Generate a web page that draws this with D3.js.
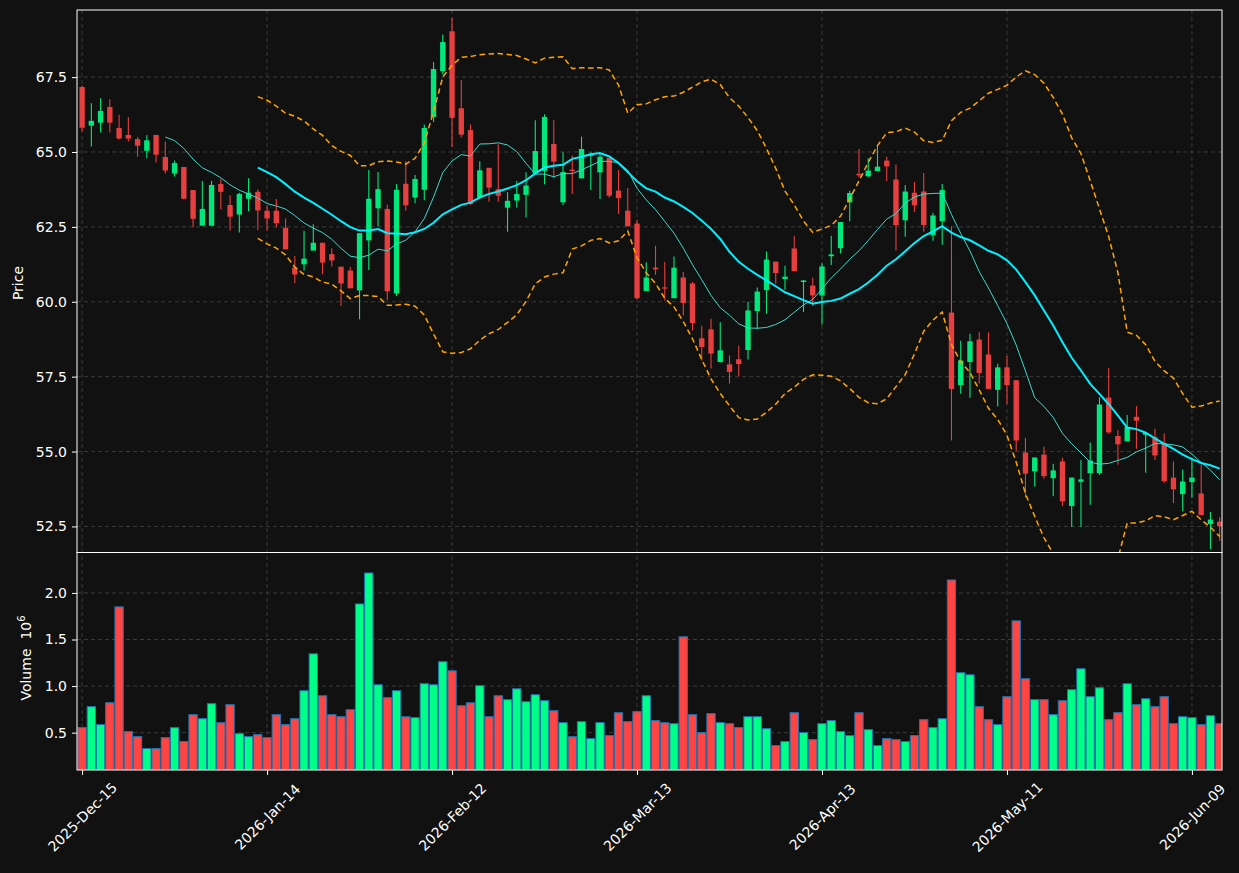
<!DOCTYPE html>
<html>
<head>
<meta charset="utf-8">
<script src="https://cdn.jsdelivr.net/npm/d3@7"></script>
<style>
  html, body { margin: 0; padding: 0; background: #111111; }
  svg { display: block; font-family: "DejaVu Sans", sans-serif; }
</style>
</head>
<body>
<svg id="chart" width="1239" height="873"></svg>
<script>
// ---- data (one entry per trading day, index 0 = 2025-Dec-15)
const open = [67.17,65.88,65.98,66.50,65.80,65.57,65.43,65.04,65.57,64.83,
  64.28,64.50,63.73,62.54,62.54,63.93,63.23,62.91,63.44,63.67,
  63.04,63.04,62.47,61.14,61.25,61.71,61.97,61.59,61.17,61.04,
  60.38,62.05,63.12,63.10,60.28,63.94,63.48,63.74,66.17,67.70,
  69.03,66.46,65.73,63.48,64.47,63.76,63.14,63.38,63.57,64.29,
  64.37,65.27,63.32,64.41,64.12,64.87,64.32,64.80,63.71,63.04,
  62.61,60.36,61.14,60.48,60.12,60.81,60.61,58.78,59.08,57.99,
  57.91,58.08,58.39,59.69,60.39,61.34,60.76,61.78,60.66,60.54,
  60.21,61.52,61.79,63.32,64.27,64.19,64.36,64.71,64.08,62.72,
  63.64,63.68,62.22,62.69,59.64,57.22,57.99,58.74,58.24,57.06,
  57.81,57.38,54.97,54.34,54.90,54.11,54.67,53.18,53.99,54.28,
  54.28,56.80,55.52,55.34,56.16,55.56,55.48,55.28,54.13,53.58,
  53.98,53.60,52.58,52.66];
const high = [67.22,66.63,66.79,66.76,66.24,66.17,65.50,65.57,65.57,65.35,
  64.72,64.50,63.73,64.03,64.03,64.10,63.56,63.64,64.12,63.75,
  63.22,63.43,62.78,61.53,62.37,62.59,61.97,61.79,61.17,61.17,
  62.29,64.40,64.33,63.25,63.93,64.69,64.23,65.92,68.00,68.92,
  69.48,67.40,65.92,64.69,64.47,65.26,63.66,64.03,64.32,66.06,
  66.26,66.06,64.99,64.88,65.51,64.99,64.93,64.80,64.40,63.80,
  62.74,61.32,61.87,61.33,61.51,60.99,60.66,59.20,59.43,59.32,
  58.21,58.53,60.00,60.48,61.68,61.34,61.20,62.20,60.73,60.80,
  61.29,62.20,62.66,63.71,65.10,64.79,65.24,64.84,64.58,63.90,
  64.00,64.30,62.97,63.93,62.52,58.70,58.93,58.98,58.98,57.93,
  58.20,57.38,55.46,54.80,55.16,54.59,54.79,54.13,54.72,55.30,
  56.81,57.79,55.72,56.22,56.52,55.62,55.76,55.61,54.67,54.40,
  54.81,54.57,52.98,52.81];
const low = [65.68,65.18,65.65,65.65,65.42,65.35,64.84,64.79,64.65,64.28,
  64.18,63.41,62.49,62.54,62.54,63.08,62.38,62.31,63.03,62.39,
  62.37,62.49,61.75,60.62,61.04,61.71,60.92,61.18,59.86,60.45,
  59.42,61.06,62.51,60.06,60.19,63.04,63.29,63.39,66.00,67.59,
  65.17,65.48,63.23,63.44,63.34,63.34,62.34,63.14,62.81,64.29,
  63.92,64.12,63.23,63.60,64.12,63.73,63.43,63.47,62.93,62.52,
  60.08,60.36,60.90,60.04,60.12,59.54,59.04,58.04,57.77,57.97,
  57.27,57.51,58.07,59.10,59.60,60.60,60.40,61.02,59.66,59.86,
  59.24,61.23,61.62,62.69,64.16,64.16,64.36,64.02,61.71,62.17,
  63.00,62.34,62.04,61.90,55.37,56.93,56.80,57.27,57.09,56.50,
  56.59,55.03,53.46,53.83,54.09,53.51,53.18,52.48,52.49,53.22,
  54.22,55.59,54.56,55.34,55.09,54.29,54.72,53.96,53.28,53.01,
  53.46,52.88,51.74,52.02];
const close = [65.81,66.04,66.37,65.98,65.45,65.45,65.21,65.39,64.91,64.38,
  64.63,63.44,62.77,63.10,63.90,63.67,62.84,63.60,63.64,63.05,
  62.78,62.62,61.75,60.91,61.44,61.97,61.31,61.38,60.61,60.45,
  62.29,63.44,63.76,60.35,63.74,63.22,64.10,65.80,67.77,68.67,
  66.14,65.58,63.26,64.39,63.81,63.54,63.37,63.60,63.88,65.03,
  66.17,64.68,64.33,64.36,65.10,64.93,64.84,63.54,63.46,62.52,
  60.12,60.81,61.08,60.44,61.14,59.96,59.29,58.49,58.27,58.38,
  57.66,57.92,59.71,60.34,61.41,60.96,60.84,61.02,60.71,60.21,
  61.18,61.58,62.66,63.63,64.22,64.38,64.51,64.52,62.56,63.68,
  63.22,62.56,62.88,63.73,57.09,58.04,58.68,57.62,57.09,57.81,
  57.22,55.37,54.26,54.80,54.18,54.37,53.34,54.13,54.07,54.70,
  56.57,55.64,55.24,55.82,56.03,55.62,54.87,54.01,53.74,54.00,
  54.13,52.88,52.73,52.51];
// volume in millions
const volume = [0.554,0.779,0.586,0.821,1.85,0.511,0.457,0.329,0.329,0.446,
  0.554,0.404,0.693,0.65,0.811,0.607,0.8,0.489,0.457,0.479,
  0.446,0.693,0.586,0.65,0.95,1.346,0.896,0.693,0.671,0.746,
  1.882,2.214,1.014,0.875,0.95,0.671,0.661,1.025,1.014,1.261,
  1.164,0.789,0.821,1.004,0.671,0.896,0.854,0.971,0.832,0.907,
  0.843,0.736,0.607,0.457,0.618,0.436,0.607,0.468,0.714,0.618,
  0.725,0.896,0.629,0.607,0.596,1.529,0.693,0.5,0.704,0.607,
  0.596,0.554,0.671,0.671,0.543,0.361,0.404,0.714,0.5,0.425,
  0.596,0.629,0.511,0.468,0.714,0.532,0.361,0.436,0.425,0.404,
  0.468,0.639,0.554,0.65,2.139,1.143,1.121,0.779,0.639,0.586,
  0.886,1.7,1.079,0.854,0.854,0.693,0.843,0.961,1.186,0.886,
  0.982,0.639,0.714,1.025,0.8,0.864,0.779,0.886,0.596,0.671,
  0.661,0.586,0.682,0.596];

const tickIdx = [0, 20, 40, 60, 80, 100, 120];
const tickLabels = ["2025-Dec-15", "2026-Jan-14", "2026-Feb-12", "2026-Mar-13",
  "2026-Apr-13", "2026-May-11", "2026-Jun-09"];
const priceTicks = [52.5, 55.0, 57.5, 60.0, 62.5, 65.0, 67.5];
const volTicks = [0.5, 1.0, 1.5, 2.0];

const UP = "#00ff88", DOWN = "#ff4444";

// ---- overlays derived from closes: SMA10, SMA20 and 20/2 bollinger bands
function rolling(n) {
  return close.map((c, i) => {
    if (i < n - 1) return null;
    let w = close.slice(i - n + 1, i + 1);
    let m = d3.mean(w);
    let sd = d3.deviation(w);
    return { i: i, m: m, up: m + 2 * sd, lo: m - 2 * sd };
  }).filter(d => d);
}
const ma10 = rolling(10), ma20 = rolling(20);

// ---- layout
const L = 77, R = 1222, PT = 10, PB = 552.5, VB = 770;
const svg = d3.select("#chart");

const x = d3.scaleLinear().domain([-0.55, 123.25]).range([L, R]);
const yP = d3.scaleLinear().domain([51.63, 69.74]).range([PB, PT]);
const yV = d3.scaleLinear().domain([0.099, 2.434]).range([VB, PB]);
const step = x(1) - x(0);

const defs = svg.append("defs");
defs.append("clipPath").attr("id", "clipP").append("rect")
  .attr("x", L).attr("y", PT).attr("width", R - L).attr("height", PB - PT);
defs.append("clipPath").attr("id", "clipV").append("rect")
  .attr("x", L).attr("y", PB).attr("width", R - L).attr("height", VB - PB);

// grid
const grid = svg.append("g").attr("stroke", "#3a3a3a").attr("stroke-dasharray", "4,3").attr("stroke-width", 1);
tickIdx.forEach(i => {
  grid.append("line").attr("x1", x(i)).attr("x2", x(i)).attr("y1", PT).attr("y2", VB);
});
priceTicks.forEach(p => {
  grid.append("line").attr("x1", L).attr("x2", R).attr("y1", yP(p)).attr("y2", yP(p));
});
volTicks.forEach(v => {
  grid.append("line").attr("x1", L).attr("x2", R).attr("y1", yV(v)).attr("y2", yV(v));
});

// candles
const cg = svg.append("g").attr("clip-path", "url(#clipP)");
const cand = cg.selectAll("g.c").data(close.map((c, i) => i)).join("g")
  .attr("opacity", 0.9)
  .attr("fill", i => close[i] >= open[i] ? UP : DOWN)
  .attr("stroke", i => close[i] >= open[i] ? UP : DOWN);
cand.append("line")
  .attr("x1", i => x(i)).attr("x2", i => x(i))
  .attr("y1", i => yP(high[i])).attr("y2", i => yP(low[i]))
  .attr("stroke-width", 1.1);
cand.append("rect")
  .attr("stroke", "none")
  .attr("x", i => x(i) - step * 0.29)
  .attr("width", step * 0.58)
  .attr("y", i => yP(Math.max(open[i], close[i])))
  .attr("height", i => Math.max(1, Math.abs(yP(open[i]) - yP(close[i]))));

// moving averages and bands
const line = key => d3.line().x(d => x(d.i)).y(d => yP(d[key]));
cg.append("path").datum(ma20).attr("d", line("up"))
  .attr("fill", "none").attr("stroke", "#ffa500").attr("stroke-width", 1.5).attr("stroke-dasharray", "5.5,3.5");
cg.append("path").datum(ma20).attr("d", line("lo"))
  .attr("fill", "none").attr("stroke", "#ffa500").attr("stroke-width", 1.5).attr("stroke-dasharray", "5.5,3.5");
cg.append("path").datum(ma10).attr("d", line("m"))
  .attr("fill", "none").attr("stroke", "#40d8c8").attr("stroke-width", 1);
cg.append("path").datum(ma20).attr("d", line("m"))
  .attr("fill", "none").attr("stroke", "#00f0ff").attr("stroke-width", 2);

// volume bars
svg.append("g").attr("clip-path", "url(#clipV)")
  .selectAll("rect").data(volume).join("rect")
  .attr("x", (v, i) => x(i) - step * 0.45)
  .attr("width", step * 0.9)
  .attr("y", v => yV(v))
  .attr("height", v => VB - yV(v))
  .attr("fill", (v, i) => close[i] >= open[i] ? UP : DOWN)
  .attr("stroke", "#1f77b4").attr("stroke-width", 1);

// frames
[[PT, PB], [PB, VB]].forEach(([a, b]) => {
  svg.append("rect").attr("x", L).attr("y", a).attr("width", R - L).attr("height", b - a)
    .attr("fill", "none").attr("stroke", "#ffffff").attr("stroke-width", 1);
});

// axes
const axP = svg.append("g").attr("transform", `translate(${L},0)`)
  .call(d3.axisLeft(yP).tickValues(priceTicks).tickFormat(d3.format(".1f")).tickSize(5).tickPadding(5));
const axV = svg.append("g").attr("transform", `translate(${L},0)`)
  .call(d3.axisLeft(yV).tickValues(volTicks).tickFormat(d3.format(".1f")).tickSize(5).tickPadding(5));
const axX = svg.append("g").attr("transform", `translate(0,${VB})`)
  .call(d3.axisBottom(x).tickValues(tickIdx).tickFormat((d, k) => tickLabels[k]).tickSize(5));
[axP, axV, axX].forEach(a => {
  a.select(".domain").remove();
  a.selectAll("line").attr("stroke", "#ffffff");
  a.selectAll("text").attr("fill", "#ffffff").attr("font-size", 14)
    .attr("font-family", "DejaVu Sans, sans-serif");
});
// rotated labels centred under their tick, like matplotlib rotation=45
axX.selectAll("text")
  .attr("text-anchor", "middle")
  .attr("dy", "0.35em").attr("y", 0)
  .attr("transform", "translate(0,47) rotate(-45)");

// axis titles
svg.append("text").attr("transform", "translate(23,283) rotate(-90)")
  .attr("text-anchor", "middle").attr("fill", "#ffffff").attr("font-size", 14).text("Price");
const vt = svg.append("text").attr("transform", "translate(31,658) rotate(-90)")
  .attr("text-anchor", "middle").attr("fill", "#ffffff").attr("font-size", 14);
vt.append("tspan").text("Volume\u00a0\u00a010");
vt.append("tspan").attr("font-size", 10).attr("dy", -6).text("6");
</script>
</body>
</html>
